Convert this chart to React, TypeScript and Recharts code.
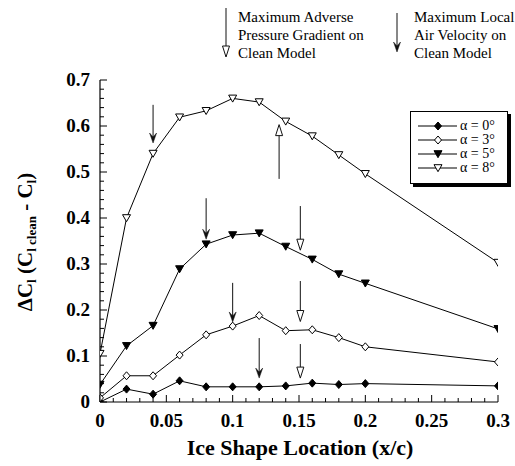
import React from "react";
import { LineChart, Line, XAxis, YAxis, ReferenceLine } from "recharts";

// ice shape location x/c
const xLocations = [0, 0.02, 0.04, 0.06, 0.08, 0.1, 0.12, 0.14, 0.16, 0.18, 0.2, 0.3];
// delta Cl for each angle of attack
const alpha0 = [0.0, 0.028, 0.017, 0.046, 0.033, 0.033, 0.033, 0.035, 0.041, 0.038, 0.04, 0.035];
const alpha3 = [0.009, 0.057, 0.057, 0.102, 0.146, 0.165, 0.188, 0.155, 0.157, 0.14, 0.12, 0.087];
const alpha5 = [0.038, 0.122, 0.166, 0.289, 0.343, 0.363, 0.367, 0.338, 0.31, 0.278, 0.258, 0.159];
const alpha8 = [0.105, 0.4, 0.54, 0.619, 0.633, 0.66, 0.652, 0.61, 0.578, 0.537, 0.496, 0.303];

const seriesNames = ["α = 0°", "α = 3°", "α = 5°", "α = 8°"];

const xMajorTicks = [0, 0.05, 0.1, 0.15, 0.2, 0.25, 0.3];
const yMajorTicks = [0, 0.1, 0.2, 0.3, 0.4, 0.5, 0.6, 0.7];

// arrows drawn on the plot: [x, from, to]
const velocityArrows = [
  [0.04, 0.646, 0.563],
  [0.08, 0.443, 0.354],
  [0.1, 0.259, 0.174],
  [0.12, 0.139, 0.052],
];
const pressureArrows = [
  [0.151, 0.426, 0.33],
  [0.151, 0.263, 0.175],
  [0.151, 0.126, 0.052],
  [0.135, 0.485, 0.603],
];

const xMinorTicks = Array.from({ length: 31 }, (_, i) => i / 100);
const yMinorTicks = Array.from({ length: 36 }, (_, i) => (i * 2) / 100);

const data = xLocations.map((x, i) => ({
  x,
  a0: alpha0[i],
  a3: alpha3[i],
  a5: alpha5[i],
  a8: alpha8[i],
}));

const FONT =
  '"Liberation Serif", Tinos, "Times New Roman", "Nimbus Roman", "DejaVu Serif", serif';

const isMajor = (v: number, majors: number[]) =>
  majors.some((t) => Math.abs(t - v) < 1e-6);

function XTick({ x, y, payload }: any) {
  const major = isMajor(payload.value, xMajorTicks);
  return (
    <g>
      <line x1={x} x2={x} y1={y} y2={y - (major ? 7 : 4)} stroke="#000" />
      {major && (
        <text
          x={x}
          y={y + 25}
          textAnchor="middle"
          fontFamily={FONT}
          fontWeight="bold"
          fontSize={19}
          fill="#000"
        >
          {String(payload.value)}
        </text>
      )}
    </g>
  );
}

function YTick({ x, y, payload }: any) {
  const major = isMajor(payload.value, yMajorTicks);
  return (
    <g>
      <line x1={x} x2={x + (major ? 7 : 4)} y1={y} y2={y} stroke="#000" />
      {major && (
        <text
          x={x - 10}
          y={y + 6}
          textAnchor="end"
          fontFamily={FONT}
          fontWeight="bold"
          fontSize={19}
          fill="#000"
        >
          {String(payload.value)}
        </text>
      )}
    </g>
  );
}

function Marker({ kind, cx, cy }: { kind: number; cx: number; cy: number }) {
  if (kind === 0 || kind === 1) {
    return (
      <polygon
        points={`${cx},${cy - 4} ${cx + 3.5},${cy} ${cx},${cy + 4} ${cx - 3.5},${cy}`}
        fill={kind === 0 ? "#000" : "#fff"}
        stroke="#000"
        strokeWidth={1}
      />
    );
  }
  return (
    <polygon
      points={`${cx - 4},${cy - 3.3} ${cx + 4},${cy - 3.3} ${cx},${cy + 3.7}`}
      fill={kind === 2 ? "#000" : "#fff"}
      stroke="#000"
      strokeWidth={1}
    />
  );
}

const makeDot = (kind: number) => (props: any) => (
  <g key={`dot-${kind}-${props.index}`}>
    <Marker kind={kind} cx={props.cx} cy={props.cy} />
  </g>
);

function Arrow({ x, y1, y2, open }: { x: number; y1: number; y2: number; open: boolean }) {
  const s = y2 > y1 ? 1 : -1;
  if (open) {
    return (
      <g>
        <line x1={x} x2={x} y1={y1} y2={y2 - s * 11} stroke="#111" />
        <polygon
          points={`${x},${y2} ${x - 3.5},${y2 - s * 11} ${x + 3.5},${y2 - s * 11}`}
          fill="#fff"
          stroke="#111"
        />
      </g>
    );
  }
  return (
    <g>
      <line x1={x} x2={x} y1={y1} y2={y2 - s * 5} stroke="#111" />
      <polygon
        points={`${x},${y2} ${x - 3.5},${y2 - s * 10} ${x},${y2 - s * 6} ${x + 3.5},${y2 - s * 10}`}
        fill="#111"
        stroke="#111"
        strokeWidth={0.5}
      />
    </g>
  );
}

const arrowShape = (open: boolean) => (p: any) =>
  <Arrow x={p.x1} y1={p.y1} y2={p.y2} open={open} />;

function YTitle() {
  const cx = 25;
  const cy = 242;
  return (
    <text
      x={cx}
      y={cy}
      transform={`rotate(-90, ${cx}, ${cy})`}
      textAnchor="middle"
      dominantBaseline="central"
      fontFamily={FONT}
      fontWeight="bold"
      fontSize={21}
      fill="#000"
    >
      <tspan>ΔC</tspan>
      <tspan dy={6} fontSize={13}>l</tspan>
      <tspan dy={-6}> (C</tspan>
      <tspan dy={6} fontSize={13}>l clean</tspan>
      <tspan dy={-6}> - C</tspan>
      <tspan dy={6} fontSize={13}>l</tspan>
      <tspan dy={-6}>)</tspan>
    </text>
  );
}

function XTitle() {
  return (
    <text
      x={300}
      y={455}
      textAnchor="middle"
      fontFamily={FONT}
      fontWeight="bold"
      fontSize={22}
      fill="#000"
    >
      Ice Shape Location (x/c)
    </text>
  );
}

function LegendBox() {
  return (
    <div
      style={{
        position: "absolute",
        left: 410,
        top: 111,
        width: 98,
        height: 73,
        border: "1px solid #000",
        boxShadow: "3px 3px 0 #000",
        background: "#fff",
        fontFamily: FONT,
        fontSize: 14,
        paddingTop: 7,
        boxSizing: "border-box",
      }}
    >
      {seriesNames.map((name, i) => (
        <div
          key={name}
          style={{ display: "flex", alignItems: "center", height: 14, lineHeight: "14px" }}
        >
          <svg width={47} height={14} style={{ flex: "none" }}>
            <line x1={7} x2={46} y1={7} y2={7} stroke="#000" />
            <Marker kind={i} cx={27} cy={7} />
          </svg>
          <span style={{ marginLeft: 2, whiteSpace: "nowrap" }}>{name}</span>
        </div>
      ))}
    </div>
  );
}

function TopNotes() {
  const textStyle: React.CSSProperties = {
    position: "absolute",
    top: 8,
    fontFamily: FONT,
    fontSize: 15,
    lineHeight: "18px",
    whiteSpace: "nowrap",
  };
  return (
    <>
      <svg
        width={515}
        height={70}
        style={{ position: "absolute", left: 0, top: 0, pointerEvents: "none" }}
      >
        <Arrow x={226} y1={8} y2={57} open={true} />
        <Arrow x={397} y1={13} y2={52} open={false} />
      </svg>
      <div style={{ ...textStyle, left: 238 }}>
        Maximum Adverse
        <br />
        Pressure Gradient on
        <br />
        Clean Model
      </div>
      <div style={{ ...textStyle, left: 414 }}>
        Maximum Local
        <br />
        Air Velocity on
        <br />
        Clean Model
      </div>
    </>
  );
}

export default function App() {
  return (
    <div
      style={{
        position: "absolute",
        left: 0,
        top: 0,
        width: 515,
        height: 466,
        background: "#fff",
        overflow: "hidden",
      }}
    >
      <LineChart
        width={515}
        height={466}
        data={data}
        margin={{ top: 80, right: 17, bottom: 0, left: 0 }}
      >
        <XAxis
          dataKey="x"
          type="number"
          domain={[0, 0.3]}
          ticks={xMinorTicks}
          interval={0}
          tickSize={0}
          tickMargin={0}
          tick={<XTick />}
          height={64}
          axisLine={{ stroke: "#000", strokeWidth: 1.2 }}
          tickLine={false}
          allowDataOverflow
          label={{ content: () => <XTitle /> }}
        />
        <YAxis
          type="number"
          domain={[0, 0.7]}
          ticks={yMinorTicks}
          interval={0}
          tickSize={0}
          tickMargin={0}
          tick={<YTick />}
          width={100}
          axisLine={{ stroke: "#000", strokeWidth: 1.2 }}
          tickLine={false}
          allowDataOverflow
          label={{ content: () => <YTitle /> }}
        />
        {velocityArrows.map(([x, a, b], i) => (
          <ReferenceLine
            key={`va-${i}`}
            segment={[{ x, y: a }, { x, y: b }]}
            shape={arrowShape(false)}
          />
        ))}
        {pressureArrows.map(([x, a, b], i) => (
          <ReferenceLine
            key={`pa-${i}`}
            segment={[{ x, y: a }, { x, y: b }]}
            shape={arrowShape(true)}
          />
        ))}
        {["a0", "a3", "a5", "a8"].map((key, i) => (
          <Line
            key={key}
            dataKey={key}
            name={seriesNames[i]}
            stroke="#000"
            strokeWidth={1}
            type="linear"
            dot={makeDot(i)}
            activeDot={false}
            isAnimationActive={false}
          />
        ))}
      </LineChart>
      <TopNotes />
      <LegendBox />
    </div>
  );
}
